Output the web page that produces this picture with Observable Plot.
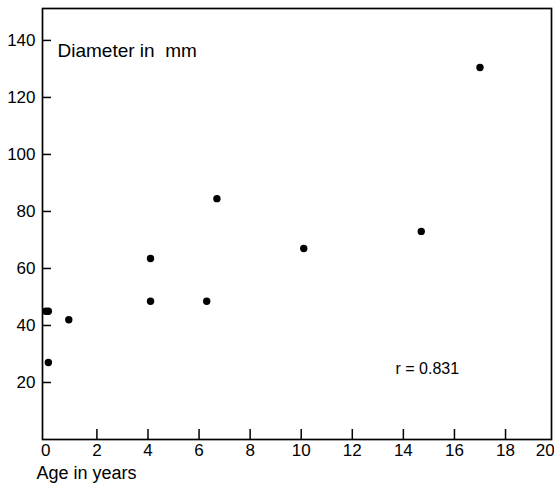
<!DOCTYPE html>
<html><head><meta charset="utf-8">
<script src="https://cdn.jsdelivr.net/npm/d3@7"></script>
<script src="https://cdn.jsdelivr.net/npm/@observablehq/plot@0.6"></script>
<style>
body{margin:0;background:#fff;}
svg text{white-space:pre;}
</style></head><body><div id="chart"></div>
<script>
const ages = [0, 0.1, 0.1, 0.9, 4.1, 4.1, 6.3, 6.7, 10.1, 14.7, 17.0];
const diameters = [45, 45, 27, 42, 63.5, 48.5, 48.5, 84.5, 67, 73, 130.5];
const xTicks = [0, 2, 4, 6, 8, 10, 12, 14, 16, 18];
const xLastTick = [20];
const yTicks = [20, 40, 60, 80, 100, 120, 140];
const yLabel = "Diameter in  mm";
const xLabel = "Age in years";
const note = "r = 0.831";

const W = 554, H = 490, mL = 42, mR = 3, mT = 8, mB = 51;
const innerW = W - mL - mR, innerH = H - mT - mB;
const pts = ages.map((a, i) => ({age: a, diameter: diameters[i]}));
const font = "'Liberation Sans', Arial, sans-serif";

const chart = Plot.plot({
  width: W, height: H,
  marginLeft: mL, marginRight: mR, marginTop: mT, marginBottom: mB,
  style: {fontFamily: font, fontSize: "17px", color: "black", background: "white"},
  x: {domain: [-0.13, 19.8], axis: null},
  y: {domain: [0, 151.2], axis: null},
  marks: [
    Plot.frame({stroke: "black", strokeWidth: 1.7}),
    Plot.ruleX(xTicks.slice(1), {x: d => d, insetTop: innerH - 10, stroke: "black", strokeWidth: 1.5}),
    Plot.ruleY(yTicks, {y: d => d, insetRight: innerW - 9, stroke: "black", strokeWidth: 1.5}),
    Plot.axisX(xTicks, {anchor: "bottom", tickSize: 0, tickPadding: 4, fontSize: 17, label: null}),
    Plot.axisX(xLastTick, {anchor: "bottom", tickSize: 0, tickPadding: 4, fontSize: 17, textAnchor: "end", dx: -2, label: null}),
    Plot.axisY(yTicks, {anchor: "left", tickSize: 0, tickPadding: 7, fontSize: 17, label: null}),
    Plot.dot(pts, {x: "age", y: "diameter", r: 3.7, fill: "black", stroke: null}),
    Plot.text([yLabel], {text: d => d, frameAnchor: "top-left", dx: 15, dy: 35, textAnchor: "start", fontSize: 19}),
    Plot.text([xLabel], {text: d => d, frameAnchor: "bottom-left", dx: -6, dy: 39, textAnchor: "start", fontSize: 18}),
    Plot.text([note], {text: d => d, frameAnchor: "top-left", dx: 353, dy: 354, textAnchor: "start", fontSize: 16})
  ]
});
document.getElementById("chart").appendChild(chart);
</script></body></html>
